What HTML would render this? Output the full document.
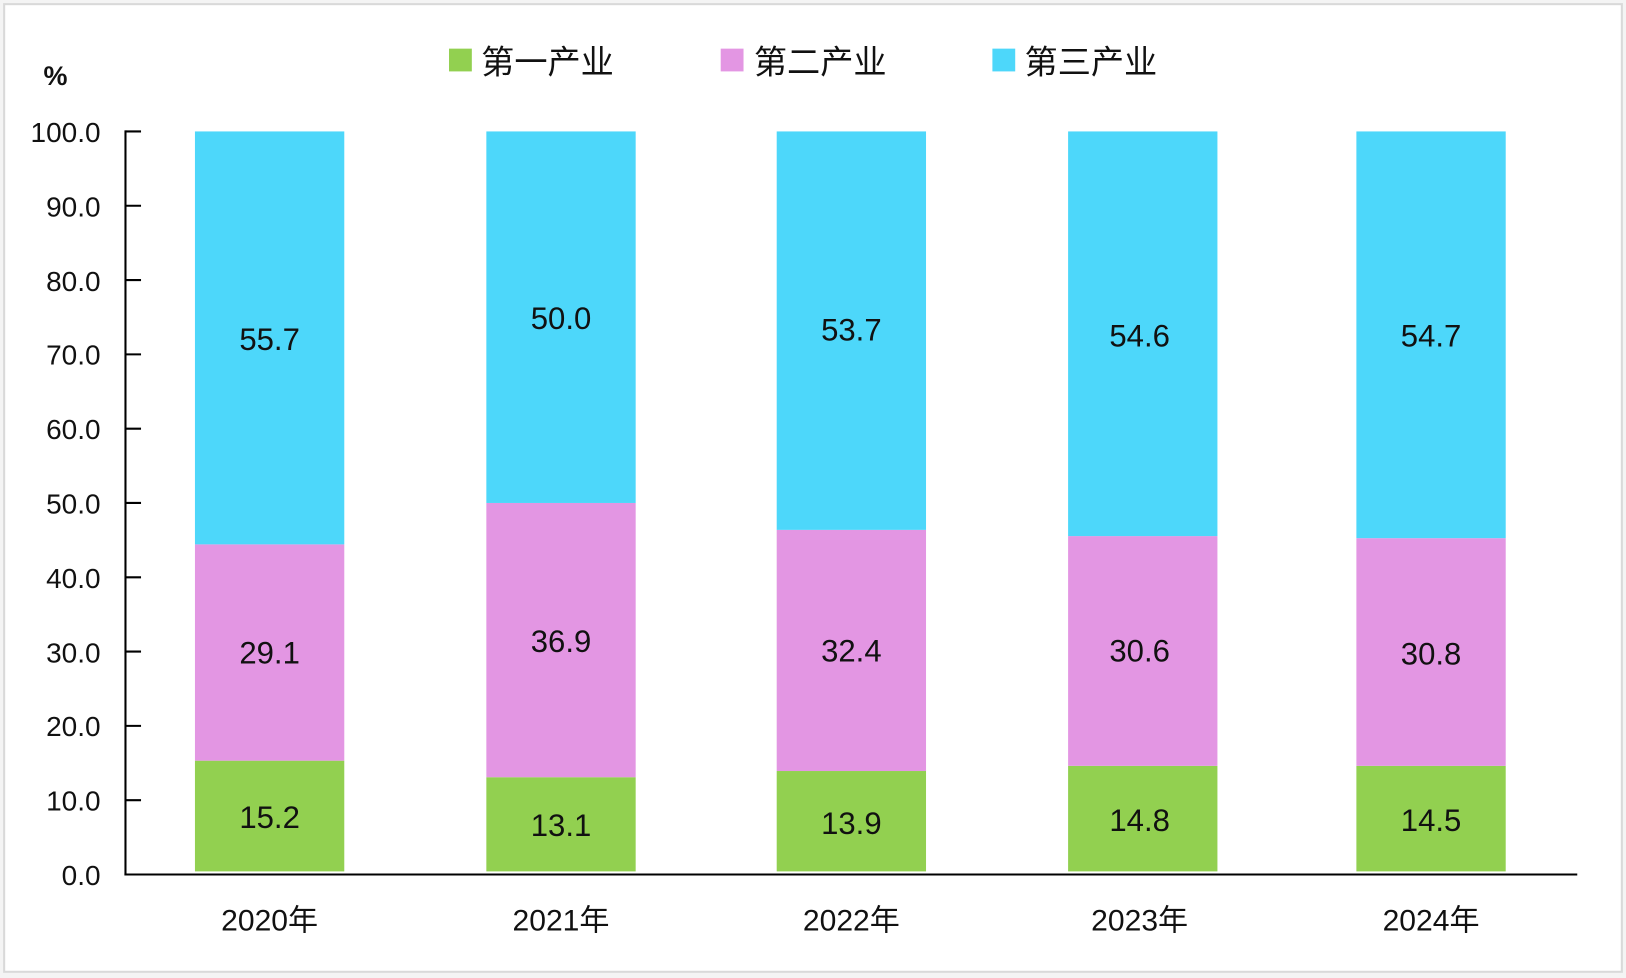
<!DOCTYPE html>
<html><head><meta charset="utf-8"><style>
html,body{margin:0;padding:0;background:#fff;}
svg{display:block}
text{font-family:"Liberation Sans","Noto Sans CJK SC",sans-serif;fill:#111;}
</style></head><body>
<svg width="1626" height="978" viewBox="0 0 1568 945" preserveAspectRatio="none" xmlns="http://www.w3.org/2000/svg">
<rect x="0" y="0" width="1568" height="945" fill="#f4f4f4"/>
<rect x="4" y="4" width="1560" height="935" fill="#fff" stroke="#d9d9d9" stroke-width="2"/>
<!-- legend -->
<rect x="433" y="47" width="22" height="22" fill="#92d050"/>
<text x="464" y="71" font-size="32">第一产业</text>
<rect x="695" y="47" width="22" height="22" fill="#e396e3"/>
<text x="727" y="71" font-size="32">第二产业</text>
<rect x="957" y="47" width="22" height="22" fill="#4dd7fa"/>
<text x="988" y="71" font-size="32">第三产业</text>
<text x="42" y="82" font-size="26" font-weight="bold">%</text>
<!-- bars -->
<g>
<rect x="188" y="735" width="144" height="107" fill="#92d050"/>
<rect x="188" y="526" width="144" height="209" fill="#e396e3"/>
<rect x="188" y="127" width="144" height="399" fill="#4dd7fa"/>
<rect x="469" y="751" width="144" height="91" fill="#92d050"/>
<rect x="469" y="486" width="144" height="265" fill="#e396e3"/>
<rect x="469" y="127" width="144" height="359" fill="#4dd7fa"/>
<rect x="749" y="745" width="144" height="97" fill="#92d050"/>
<rect x="749" y="512" width="144" height="233" fill="#e396e3"/>
<rect x="749" y="127" width="144" height="385" fill="#4dd7fa"/>
<rect x="1030" y="740" width="144" height="102" fill="#92d050"/>
<rect x="1030" y="518" width="144" height="222" fill="#e396e3"/>
<rect x="1030" y="127" width="144" height="391" fill="#4dd7fa"/>
<rect x="1308" y="740" width="144" height="102" fill="#92d050"/>
<rect x="1308" y="520" width="144" height="220" fill="#e396e3"/>
<rect x="1308" y="127" width="144" height="393" fill="#4dd7fa"/>
</g>
<g font-size="30" text-anchor="middle">
<text x="260" y="338">55.7</text><text x="260" y="641">29.1</text><text x="260" y="800">15.2</text>
<text x="541" y="318">50.0</text><text x="541" y="630">36.9</text><text x="541" y="808">13.1</text>
<text x="821" y="329">53.7</text><text x="821" y="639">32.4</text><text x="821" y="806">13.9</text>
<text x="1099" y="335">54.6</text><text x="1099" y="639">30.6</text><text x="1099" y="803">14.8</text>
<text x="1380" y="335">54.7</text><text x="1380" y="642">30.8</text><text x="1380" y="803">14.5</text>
</g>
<!-- axes -->
<line x1="121" y1="126" x2="121" y2="846" stroke="#000" stroke-width="2"/>
<line x1="120" y1="845" x2="1521" y2="845" stroke="#000" stroke-width="2"/>
<g stroke="#000" stroke-width="2">
<line x1="121" y1="127" x2="136" y2="127"/><line x1="121" y1="198.8" x2="136" y2="198.8"/>
<line x1="121" y1="270.6" x2="136" y2="270.6"/><line x1="121" y1="342.4" x2="136" y2="342.4"/>
<line x1="121" y1="414.2" x2="136" y2="414.2"/><line x1="121" y1="486" x2="136" y2="486"/>
<line x1="121" y1="557.8" x2="136" y2="557.8"/><line x1="121" y1="629.6" x2="136" y2="629.6"/>
<line x1="121" y1="701.4" x2="136" y2="701.4"/><line x1="121" y1="773.2" x2="136" y2="773.2"/>
</g>
<g font-size="27" text-anchor="end">
<text x="97" y="137">100.0</text><text x="97" y="209">90.0</text><text x="97" y="281">80.0</text>
<text x="97" y="352">70.0</text><text x="97" y="424">60.0</text><text x="97" y="496">50.0</text>
<text x="97" y="568">40.0</text><text x="97" y="640">30.0</text><text x="97" y="711">20.0</text>
<text x="97" y="783">10.0</text><text x="97" y="855">0.0</text>
</g>
<g font-size="29" text-anchor="middle">
<text x="260" y="899">2020年</text><text x="541" y="899">2021年</text><text x="821" y="899">2022年</text>
<text x="1099" y="899">2023年</text><text x="1380" y="899">2024年</text>
</g>
</svg>
</body></html>
